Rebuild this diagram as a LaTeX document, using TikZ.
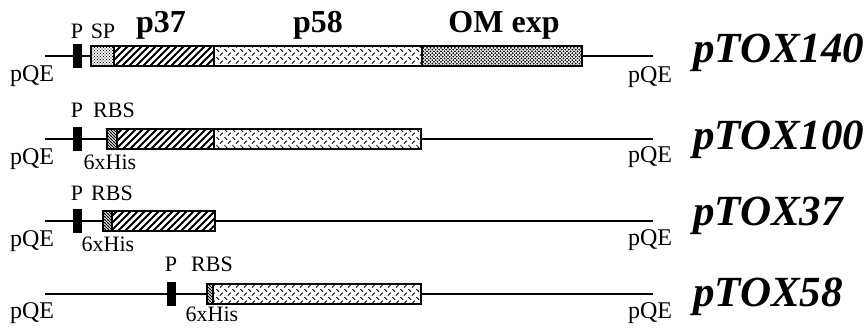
\documentclass[tikz,border=0pt]{standalone}
\usepackage{fontspec}
\setmainfont{Liberation Serif}
\usetikzlibrary{patterns}
\pgfdeclarepatternformonly{bigne}{\pgfqpoint{-1pt}{-1pt}}{\pgfqpoint{8pt}{8pt}}{\pgfqpoint{7pt}{7pt}}{%
  \pgfsetlinewidth{1.8pt}\pgfpathmoveto{\pgfqpoint{-0.5pt}{-0.5pt}}\pgfpathlineto{\pgfqpoint{7.5pt}{7.5pt}}\pgfusepath{stroke}}
\pgfdeclarepatternformonly{smallnw}{\pgfqpoint{-1pt}{-1pt}}{\pgfqpoint{4pt}{4pt}}{\pgfqpoint{3pt}{3pt}}{%
  \pgfsetlinewidth{0.8pt}\pgfpathmoveto{\pgfqpoint{-0.5pt}{3.5pt}}\pgfpathlineto{\pgfqpoint{3.5pt}{-0.5pt}}\pgfusepath{stroke}}
\pgfdeclarepatternformonly{herring}{\pgfqpoint{0pt}{0pt}}{\pgfqpoint{8pt}{8pt}}{\pgfqpoint{8pt}{8pt}}{%
  \pgfsetlinewidth{0.9pt}%
  \pgfpathmoveto{\pgfqpoint{0.5pt}{7.5pt}}\pgfpathlineto{\pgfqpoint{3.5pt}{4.5pt}}%
  \pgfpathmoveto{\pgfqpoint{4.5pt}{0.5pt}}\pgfpathlineto{\pgfqpoint{7.5pt}{3.5pt}}%
  \pgfusepath{stroke}}
\pgfdeclarepatternformonly{coarsedots}{\pgfqpoint{-1pt}{-1pt}}{\pgfqpoint{4.5pt}{4.5pt}}{\pgfqpoint{3.5pt}{3.5pt}}{%
  \pgfpathcircle{\pgfqpoint{0pt}{0pt}}{1pt}\pgfpathcircle{\pgfqpoint{1.75pt}{1.75pt}}{1pt}\pgfusepath{fill}}
\pgfdeclarepatternformonly{finedots}{\pgfqpoint{-1pt}{-1pt}}{\pgfqpoint{4pt}{4pt}}{\pgfqpoint{3pt}{3pt}}{%
  \pgfpathcircle{\pgfqpoint{0pt}{0pt}}{0.65pt}\pgfpathcircle{\pgfqpoint{1.5pt}{1.5pt}}{0.65pt}\pgfusepath{fill}}
\tikzset{
  blk/.style={draw, line width=1.2pt, minimum height=20pt, inner sep=0pt, outer sep=0pt, anchor=west},
  hatch/.style={blk, pattern=bigne},
  rbsbox/.style={blk, pattern=smallnw},
  herr/.style={blk, pattern=herring},
  omdots/.style={blk, pattern=coarsedots},
  spdots/.style={blk, pattern=finedots},
  prom/.style={fill=black, draw=black, minimum width=8pt, minimum height=23pt, inner sep=0pt, outer sep=0pt},
  bb/.style={line width=2pt},
  lab/.style={font=\fontsize{22}{24}\selectfont, anchor=base, inner sep=0pt},
  qe/.style={font=\fontsize{24}{26}\selectfont, anchor=base, inner sep=0pt},
  biglab/.style={font=\fontsize{32}{34}\selectfont\bfseries, anchor=base, inner sep=0pt},
  plasmid/.style={font=\fontsize{43}{45}\selectfont\bfseries\itshape, anchor=base west, inner sep=0pt},
}
\begin{document}
\begin{tikzpicture}[x=1pt, y=-1pt]
\useasboundingbox (0,0) rectangle (865,328);
% ---------- row 1: pTOX140
\coordinate (s1) at (45,56);
\coordinate (e1) at (653,56);
\node[prom] (P1) at (77,56) {};
\node[spdots, minimum width=23pt] (sp1) at (91,56) {};
\node[hatch, minimum width=100pt] (a1) at (114,56) {};
\node[herr, minimum width=208pt] (b1) at (214,56) {};
\node[omdots, minimum width=160pt] (c1) at (422,56) {};
\draw[bb] (s1) -- (P1.west) (P1.east) -- (sp1.west) (c1.east) -- (e1);
\node[lab] (lP1) at (77,39) {P};
\node[lab] (lSP1) at (103,39) {SP};
\node[biglab] (l37) at (161,33) {p37};
\node[biglab] (l58) at (318,33) {p58};
\node[biglab] (lom) at (504,33) {OM exp};
\node[qe] (q1a) at (32,82) {pQE};
\node[qe] (q1b) at (650,83) {pQE};
\node[plasmid] (n1) at (693,63) {pTOX140};
% ---------- row 2: pTOX100
\coordinate (s2) at (45,139);
\coordinate (e2) at (653,139);
\node[prom] (P2) at (77,139) {};
\node[rbsbox, minimum width=10pt] (r2) at (107,139) {};
\node[hatch, minimum width=97pt] (a2) at (117,139) {};
\node[herr, minimum width=207pt] (b2) at (214,139) {};
\draw[bb] (s2) -- (P2.west) (P2.east) -- (r2.west) (b2.east) -- (e2);
\node[lab] (lP2) at (77,118) {P};
\node[lab] (lR2) at (114,118) {RBS};
\node[lab] (lH2) at (110,170) {6xHis};
\node[qe] (q2a) at (32,165) {pQE};
\node[qe] (q2b) at (650,163) {pQE};
\node[plasmid] (n2) at (693,150) {pTOX100};
% ---------- row 3: pTOX37
\coordinate (s3) at (45,221);
\coordinate (e3) at (653,221);
\node[prom] (P3) at (77,221) {};
\node[rbsbox, minimum width=9pt] (r3) at (103,221) {};
\node[hatch, minimum width=103pt] (a3) at (112,221) {};
\draw[bb] (s3) -- (P3.west) (P3.east) -- (r3.west) (a3.east) -- (e3);
\node[lab] (lP3) at (77,201) {P};
\node[lab] (lR3) at (112,201) {RBS};
\node[lab] (lH3) at (108,252) {6xHis};
\node[qe] (q3a) at (32,247) {pQE};
\node[qe] (q3b) at (650,246) {pQE};
\node[plasmid] (n3) at (693,226) {pTOX37};
% ---------- row 4: pTOX58
\coordinate (s4) at (45,294);
\coordinate (e4) at (653,294);
\node[prom] (P4) at (171,294) {};
\node[rbsbox, minimum width=6pt] (r4) at (207,294) {};
\node[herr, minimum width=208pt] (b4) at (213,294) {};
\draw[bb] (s4) -- (P4.west) (P4.east) -- (r4.west) (b4.east) -- (e4);
\node[lab] (lP4) at (171,272) {P};
\node[lab] (lR4) at (212,272) {RBS};
\node[lab] (lH4) at (212,322) {6xHis};
\node[qe] (q4a) at (32,319) {pQE};
\node[qe] (q4b) at (650,319) {pQE};
\node[plasmid] (n4) at (693,307) {pTOX58};
\end{tikzpicture}
\end{document}
